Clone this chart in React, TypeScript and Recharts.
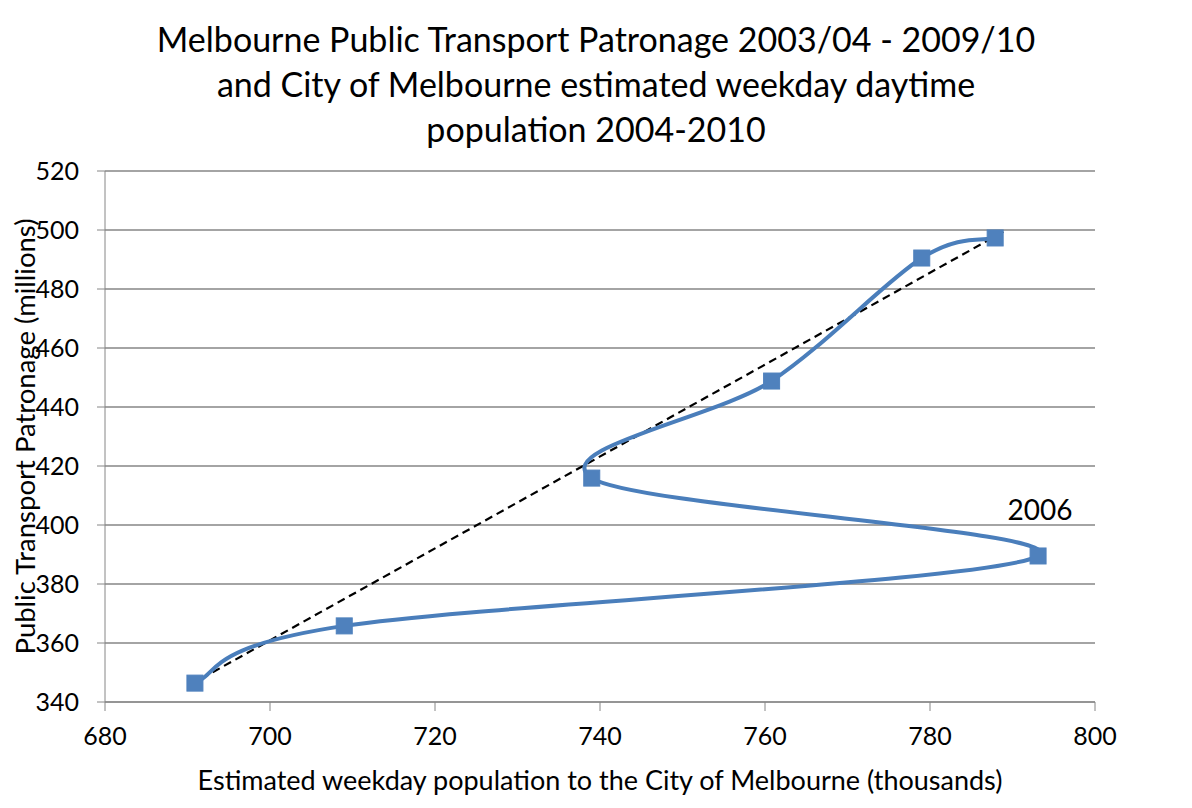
import React from "react"
import { ComposedChart, Line, XAxis, YAxis, CartesianGrid, ReferenceLine, ReferenceDot } from "recharts"

// population (thousands) vs patronage (millions), in year order 2004..2010
const population = [690.9, 709.0, 793.1, 739.0, 760.8, 779.0, 787.9]
const patronage = [346.4, 365.8, 389.5, 415.9, 448.8, 490.5, 497.3]
const years = ["2004", "2005", "2006", "2007", "2008", "2009", "2010"]

// hand drawn dashed guide, first to last year
const guideX = [690.3, 789.1]
const guideY = [345.8, 499.7]

const xTicks = [680, 700, 720, 740, 760, 780, 800]
const yTicks = [340, 360, 380, 400, 420, 440, 460, 480, 500, 520]

const titleLines = [
  "Melbourne Public Transport Patronage 2003/04 - 2009/10",
  "and City of Melbourne estimated weekday daytime",
  "population 2004-2010",
]

const FONT = "Lato, 'Open Sans', sans-serif"
const BLUE = "#4A7EBB"

const data = population.map((x, i) => ({ x, y: patronage[i], year: years[i] }))

// Excel-like smoothing: Catmull-Rom through every point, in data order
function excelSmooth(context: any) {
  let pts: number[][] = []
  return {
    areaStart() {},
    areaEnd() {},
    lineStart() {
      pts = []
    },
    point(x: number, y: number) {
      pts.push([+x, +y])
    },
    lineEnd() {
      if (!pts.length) return
      context.moveTo(pts[0][0], pts[0][1])
      for (let i = 0; i < pts.length - 1; i++) {
        const p0 = pts[i - 1] || pts[i]
        const p1 = pts[i]
        const p2 = pts[i + 1]
        const p3 = pts[i + 2] || p2
        context.bezierCurveTo(
          p1[0] + (p2[0] - p0[0]) / 6,
          p1[1] + (p2[1] - p0[1]) / 6,
          p2[0] - (p3[0] - p1[0]) / 6,
          p2[1] - (p3[1] - p1[1]) / 6,
          p2[0],
          p2[1]
        )
      }
    },
  }
}

function SquareDot(props: any) {
  const { cx, cy, index } = props
  if (cx == null || cy == null) return null
  return <rect key={`sq-${index}`} x={cx - 8} y={cy - 8} width={16} height={16} fill="#4F81BD" stroke="#4F81BD" strokeWidth={1} />
}

export default function App() {
  return (
    <div style={{ position: "absolute", left: 0, top: 0, width: 1192, height: 808, background: "#fff", fontFamily: FONT }}>
      <div
        style={{
          position: "absolute",
          left: 0,
          top: 16,
          width: 1192,
          textAlign: "center",
          fontSize: 34,
          lineHeight: "45px",
          color: "#000",
        }}
      >
        {titleLines.map((t) => (
          <div key={t}>{t}</div>
        ))}
      </div>
      <ComposedChart width={1192} height={808} data={data} margin={{ top: 171, right: 97, bottom: 46, left: 25 }}>
        <CartesianGrid vertical={false} stroke="#868686" strokeWidth={1.3} />
        <XAxis
          type="number"
          dataKey="x"
          domain={[680, 800]}
          ticks={xTicks}
          height={60}
          stroke="#868686"
          tickSize={9}
          tickMargin={16}
          tick={{ fill: "#000", fontSize: 25, fontFamily: FONT }}
          label={{
            value: "Estimated weekday population to the City of Melbourne (thousands)",
            position: "bottom",
            offset: 9,
            fill: "#000",
            fontSize: 27,
            fontFamily: FONT,
          }}
        />
        <YAxis
          type="number"
          domain={[340, 520]}
          ticks={yTicks}
          width={80}
          stroke="#868686"
          tickSize={8}
          tickMargin={18}
          tick={{ fill: "#000", fontSize: 25, fontFamily: FONT }}
          label={{
            value: "Public Transport Patronage (millions)",
            angle: -90,
            position: "center",
            dx: -40,
            fill: "#000",
            fontSize: 27.5,
            fontFamily: FONT,
          }}
        />
        <ReferenceLine
          segment={[
            { x: guideX[0], y: guideY[0] },
            { x: guideX[1], y: guideY[1] },
          ]}
          stroke="#000"
          strokeWidth={2.2}
          strokeDasharray="8 5"
          ifOverflow="visible"
        />
        <Line
          dataKey="y"
          type={excelSmooth as any}
          stroke={BLUE}
          strokeWidth={4}
          dot={<SquareDot />}
          activeDot={false}
          isAnimationActive={false}
        />
        <ReferenceDot
          x={population[2]}
          y={patronage[2]}
          r={0}
          stroke="none"
          ifOverflow="visible"
          label={{ value: years[2], position: "top", offset: 36, dx: 2, fill: "#000", fontSize: 28, fontFamily: FONT }}
        />
      </ComposedChart>
    </div>
  )
}
